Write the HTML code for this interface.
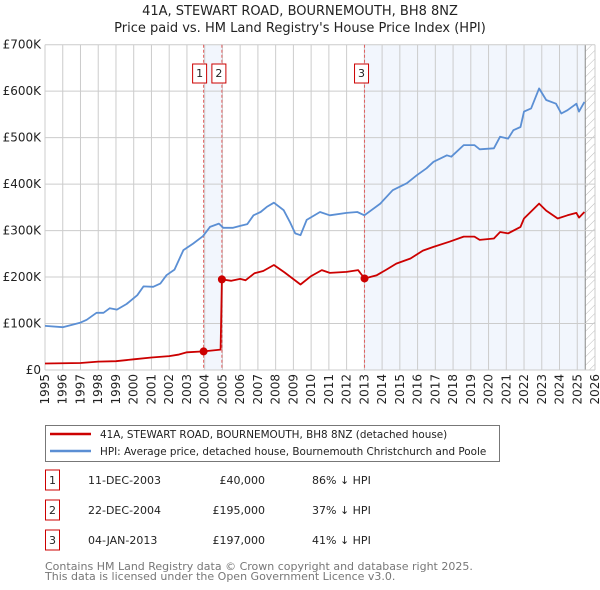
<!DOCTYPE html>
<html><head><meta charset="utf-8"><style>
body{margin:0;background:#fff;font-family:"DejaVu Sans","Liberation Sans",sans-serif;}
svg{display:block}
</style></head><body>
<svg id="c" width="600" height="590" xmlns="http://www.w3.org/2000/svg" font-family="DejaVu Sans, Liberation Sans, sans-serif">
<defs><pattern id="hatch" width="6" height="6" patternUnits="userSpaceOnUse" patternTransform="rotate(45)"><line x1="0" y1="0" x2="0" y2="6" stroke="#bbb" stroke-width="1"/></pattern></defs>
<text x="300" y="15" text-anchor="middle" font-size="13" fill="#222">41A, STEWART ROAD, BOURNEMOUTH, BH8 8NZ</text>
<text x="300" y="32" text-anchor="middle" font-size="13" fill="#222">Price paid vs. HM Land Registry's House Price Index (HPI)</text>
<g id="plot"></g>
<g>
<rect x="45.5" y="425.5" width="454" height="36" fill="#fff" stroke="#777"/>
<line x1="50" y1="434" x2="91" y2="434" stroke="#cc0000" stroke-width="2.5"/>
<text x="100" y="438" font-size="10.4" fill="#222">41A, STEWART ROAD, BOURNEMOUTH, BH8 8NZ (detached house)</text>
<line x1="50" y1="451" x2="91" y2="451" stroke="#5b8fd4" stroke-width="2.5"/>
<text x="100" y="455" font-size="10.4" fill="#222">HPI: Average price, detached house, Bournemouth Christchurch and Poole</text>
</g>
<g id="tbl" font-size="11" fill="#222"></g>
<text x="45" y="570" font-size="11" fill="#777">Contains HM Land Registry data © Crown copyright and database right 2025.</text>
<text x="45" y="580" font-size="11" fill="#777">This data is licensed under the Open Government Licence v3.0.</text>
</svg>
<script>
const hpiYears=[1995,1996,1997,1997.35,1997.9,1998.3,1998.65,1999.05,1999.6,2000.2,2000.55,2001.1,2001.5,2001.85,2002.3,2002.8,2003.35,2003.9,2004.3,2004.8,2005.05,2005.6,2006,2006.4,2006.75,2007.15,2007.5,2007.9,2008.45,2008.8,2009.1,2009.4,2009.75,2010.5,2011.05,2012,2012.6,2013,2013.9,2014.6,2015.4,2015.95,2016.5,2016.9,2017.65,2017.9,2018.6,2019.2,2019.5,2020.3,2020.65,2021.1,2021.4,2021.8,2022,2022.4,2022.85,2023.25,2023.8,2024.1,2024.45,2024.95,2025.1,2025.4];
const hpiValues=[95,92,102,108,123,123,133,130,142,161,180,179,186,204,216,258,272,288,308,315,306,306,310,314,333,340,351,360,344,319,294,290,323,340,333,338,340,333,358,387,402,419,434,448,462,459,484,484,475,477,502,498,516,523,556,563,606,581,573,552,559,573,556,577];
const ppYears=[1995,1997,1998,1999,2000,2001,2002,2002.5,2003,2003.94,2004.9,2004.97,2005.5,2006,2006.3,2006.8,2007.3,2007.9,2008.5,2009.4,2010,2010.6,2011.05,2012,2012.65,2013.01,2013.7,2014.2,2014.8,2015.6,2016.3,2016.9,2017.8,2018.6,2019.2,2019.5,2020.3,2020.65,2021.1,2021.8,2022,2022.85,2023.25,2023.9,2024.45,2024.95,2025.1,2025.4];
const ppValues=[14,15,18,19,23,27,30,33,38,40,44,195,192,196,193,208,213,226,210,184,202,215,209,211,215,197,204,215,229,240,257,265,276,287,287,280,283,297,294,308,326,358,343,326,333,338,328,340];
const saleYears=[2003.94,2004.97,2013.01];
const saleValues=[40,195,197];
const saleLabels=["1","2","3"];
const saleDates=["11-DEC-2003","22-DEC-2004","04-JAN-2013"];
const salePrices=["£40,000","£195,000","£197,000"];
const saleDiffs=["86% ↓ HPI","37% ↓ HPI","41% ↓ HPI"];
const yTicks=[0,100,200,300,400,500,600,700];
const yTickLabels=["£0","£100K","£200K","£300K","£400K","£500K","£600K","£700K"];
const xTicks=[];for(let y=1995;y<=2026;y++)xTicks.push(y);
const X0=45,X1=595,Y0=370,Y1=44.7;
const xs=v=>X0+(v-1995)/(2026-1995)*(X1-X0);
const ys=v=>Y0-v/700*(Y0-Y1);
const NS="http://www.w3.org/2000/svg";
const g=document.getElementById('plot');
function mk(tag,at,p){const e=document.createElementNS(NS,tag);for(const k in at)e.setAttribute(k,at[k]);(p||g).appendChild(e);return e;}
let e=mk('rect',{x:xs(saleYears[0]),y:Y1,width:xs(saleYears[1])-xs(saleYears[0]),height:Y0-Y1,fill:'#f2f6fd'});


e=mk('rect',{x:xs(saleYears[2]),y:Y1,width:xs(2025.45)-xs(saleYears[2]),height:Y0-Y1,fill:'#f2f6fd'});


e=mk('rect',{x:xs(2025.45),y:Y1,width:X1-xs(2025.45),height:Y0-Y1,fill:'url(#hatch)'});


mk('line',{x1:xs(2025.45),x2:xs(2025.45),y1:Y1,y2:Y0,stroke:'#888','stroke-width':1});
xTicks.forEach(t=>{mk('line',{x1:xs(t),x2:xs(t),y1:Y1,y2:Y0,stroke:'#ccc','stroke-width':1});
 const tx=mk('text',{x:0,y:0,transform:`translate(${xs(t)+4},${Y0+4}) rotate(-90)`,'text-anchor':'end','font-size':12,fill:'#222'});tx.textContent=t;
 
 });
yTicks.forEach((t,i)=>{mk('line',{x1:X0,x2:X1,y1:ys(t),y2:ys(t),stroke:'#ccc','stroke-width':1});
 const tx=mk('text',{x:X0-4,y:ys(t)+4,'text-anchor':'end','font-size':12,fill:'#222'});tx.textContent=yTickLabels[i];
 
 });
saleYears.forEach((s,i)=>{const ln=mk('line',{x1:xs(s),x2:xs(s),y1:Y1,y2:Y0,stroke:'#e06060','stroke-width':1,'stroke-dasharray':'3,2'});
 
 
 const bx=xs(s)+(i==0?-4:(i==1?-3:-3)), w=14;
 const r=mk('rect',{x:bx-w/2,y:64,width:w,height:19,fill:'#fff',stroke:'#cc0000','stroke-width':1});
 
 
 const t=mk('text',{x:bx,y:77,'text-anchor':'middle','font-size':11,fill:'#222'});t.textContent=saleLabels[i];});
function path(xa,va){return xa.map((x,i)=>(i?'L':'M')+xs(x).toFixed(1)+','+ys(va[i]).toFixed(1)).join('');}
e=mk('path',{d:path(hpiYears,hpiValues),fill:'none',stroke:'#5b8fd4','stroke-width':1.8,'stroke-linejoin':'round'});


e=mk('path',{d:path(ppYears,ppValues),fill:'none',stroke:'#cc0000','stroke-width':1.8,'stroke-linejoin':'round'});


saleYears.forEach((s,i)=>{const c=mk('circle',{cx:xs(s),cy:ys(saleValues[i]),r:4,fill:'#cc0000'});
 
 });
const tb=document.getElementById('tbl');
saleLabels.forEach((l,i)=>{const y=483+i*30;
 mk('rect',{x:45.5,y:y-13,width:14,height:20,fill:'#fff',stroke:'#cc0000'},tb);
 let t=mk('text',{x:52.5,y:y+1,'text-anchor':'middle'},tb);t.textContent=l;
 t=mk('text',{x:88,y:y+1},tb);t.textContent=saleDates[i];
 t=mk('text',{x:265,y:y+1,'text-anchor':'end'},tb);t.textContent=salePrices[i];
 t=mk('text',{x:312,y:y+1},tb);t.textContent=saleDiffs[i];
 
 });
</script>
</body></html>
